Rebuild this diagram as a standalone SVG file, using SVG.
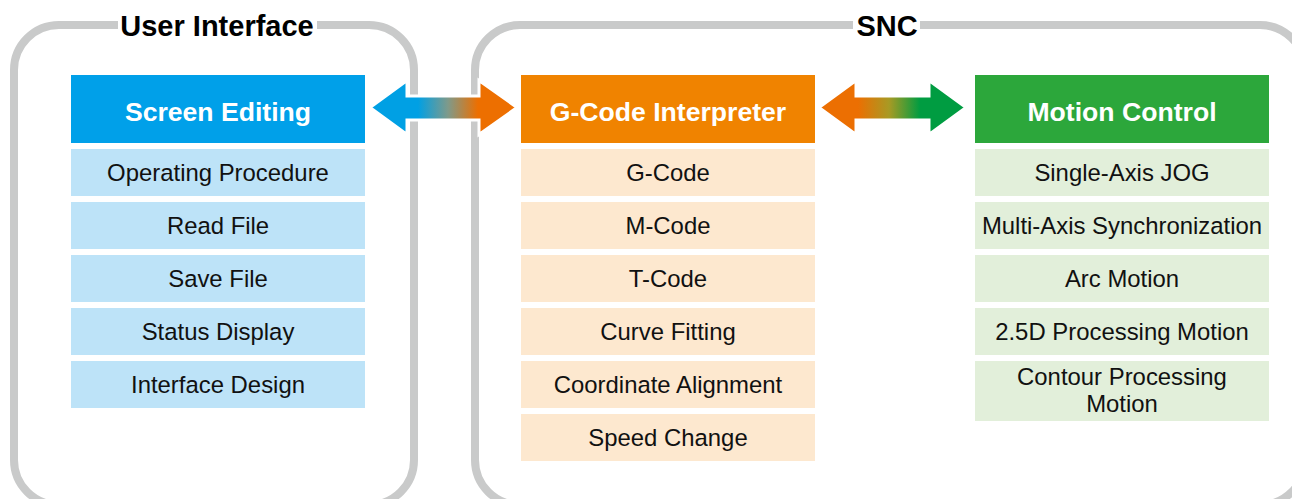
<svg xmlns="http://www.w3.org/2000/svg" width="1292" height="499" viewBox="0 0 1292 499">
<defs>
<linearGradient id="g1" gradientUnits="userSpaceOnUse" x1="418" y1="0" x2="478" y2="0">
<stop offset="0" stop-color="#00a0e4"/>
<stop offset="0.5" stop-color="#7f9a8a"/>
<stop offset="1" stop-color="#ed6f00"/>
</linearGradient>
<linearGradient id="g2" gradientUnits="userSpaceOnUse" x1="858" y1="0" x2="920" y2="0">
<stop offset="0" stop-color="#ec6f02"/>
<stop offset="0.5" stop-color="#a89a24"/>
<stop offset="1" stop-color="#009c41"/>
</linearGradient>
<style>
.frame{fill:none;stroke:#c9caca;stroke-width:8}
.title{font-family:"Liberation Sans",Arial,sans-serif;font-weight:bold;font-size:29px;fill:#000;text-anchor:middle}
.head{font-family:"Liberation Sans",Arial,sans-serif;font-weight:bold;font-size:26.6px;fill:#fff;text-anchor:middle}
.item{font-family:"Liberation Sans",Arial,sans-serif;font-size:23.9px;fill:#111;text-anchor:middle}
.blue{fill:#00a0e9}.orange{fill:#f08300}.green{fill:#2ca73b}
.lb{fill:#bde3f8}.lo{fill:#fde8cf}.lg{fill:#e2efda}
.arrow{stroke:#fff;stroke-width:3;stroke-linejoin:miter}
</style>
</defs>
<rect width="1292" height="499" fill="#fff"/>
<g id="container-ui">
<rect class="frame" x="14" y="25" width="400" height="480" rx="45" ry="45"/>
<rect x="118" y="8" width="199" height="34" fill="#fff"/>
<text class="title" x="217" y="36">User Interface</text>
</g>
<g id="container-snc">
<rect class="frame" x="475" y="25" width="830" height="480" rx="45" ry="45"/>
<rect x="853" y="8" width="67" height="34" fill="#fff"/>
<text class="title" x="887" y="36">SNC</text>
</g>
<g id="screen-editing">
<rect class="blue" x="71" y="75" width="294" height="68"/>
<text class="head" x="218" y="121">Screen Editing</text>
<rect class="lb" x="71" y="149" width="294" height="47"/>
<text class="item" x="218" y="181">Operating Procedure</text>
<rect class="lb" x="71" y="202" width="294" height="47"/>
<text class="item" x="218" y="234">Read File</text>
<rect class="lb" x="71" y="255" width="294" height="47"/>
<text class="item" x="218" y="287">Save File</text>
<rect class="lb" x="71" y="308" width="294" height="47"/>
<text class="item" x="218" y="340">Status Display</text>
<rect class="lb" x="71" y="361" width="294" height="47"/>
<text class="item" x="218" y="393">Interface Design</text>
</g>
<g id="gcode-interpreter">
<rect class="orange" x="521" y="75" width="294" height="68"/>
<text class="head" x="668" y="121">G-Code Interpreter</text>
<rect class="lo" x="521" y="149" width="294" height="47"/>
<text class="item" x="668" y="181">G-Code</text>
<rect class="lo" x="521" y="202" width="294" height="47"/>
<text class="item" x="668" y="234">M-Code</text>
<rect class="lo" x="521" y="255" width="294" height="47"/>
<text class="item" x="668" y="287">T-Code</text>
<rect class="lo" x="521" y="308" width="294" height="47"/>
<text class="item" x="668" y="340">Curve Fitting</text>
<rect class="lo" x="521" y="361" width="294" height="47"/>
<text class="item" x="668" y="393">Coordinate Alignment</text>
<rect class="lo" x="521" y="414" width="294" height="47"/>
<text class="item" x="668" y="446">Speed Change</text>
</g>
<g id="motion-control">
<rect class="green" x="975" y="75" width="294" height="68"/>
<text class="head" x="1122" y="121">Motion Control</text>
<rect class="lg" x="975" y="149" width="294" height="47"/>
<text class="item" x="1122" y="181">Single-Axis JOG</text>
<rect class="lg" x="975" y="202" width="294" height="47"/>
<text class="item" x="1122" y="234">Multi-Axis Synchronization</text>
<rect class="lg" x="975" y="255" width="294" height="47"/>
<text class="item" x="1122" y="287">Arc Motion</text>
<rect class="lg" x="975" y="308" width="294" height="47"/>
<text class="item" x="1122" y="340">2.5D Processing Motion</text>
<rect class="lg" x="975" y="361" width="294" height="60"/>
<text class="item" x="1122" y="385">Contour Processing</text>
<text class="item" x="1122" y="412">Motion</text>
</g>
<g id="connectors">
<polygon class="arrow" fill="url(#g1)" points="370,107.5 407,80.5 407,96 479,96 479,80.5 517,107.5 479,134.5 479,120 407,120 407,134.5"/>
<polygon class="arrow" fill="url(#g2)" points="819,107.5 856,80.5 856,96 929,96 929,80.5 966,107.5 929,134.5 929,120 856,120 856,134.5"/>
</g>
</svg>
